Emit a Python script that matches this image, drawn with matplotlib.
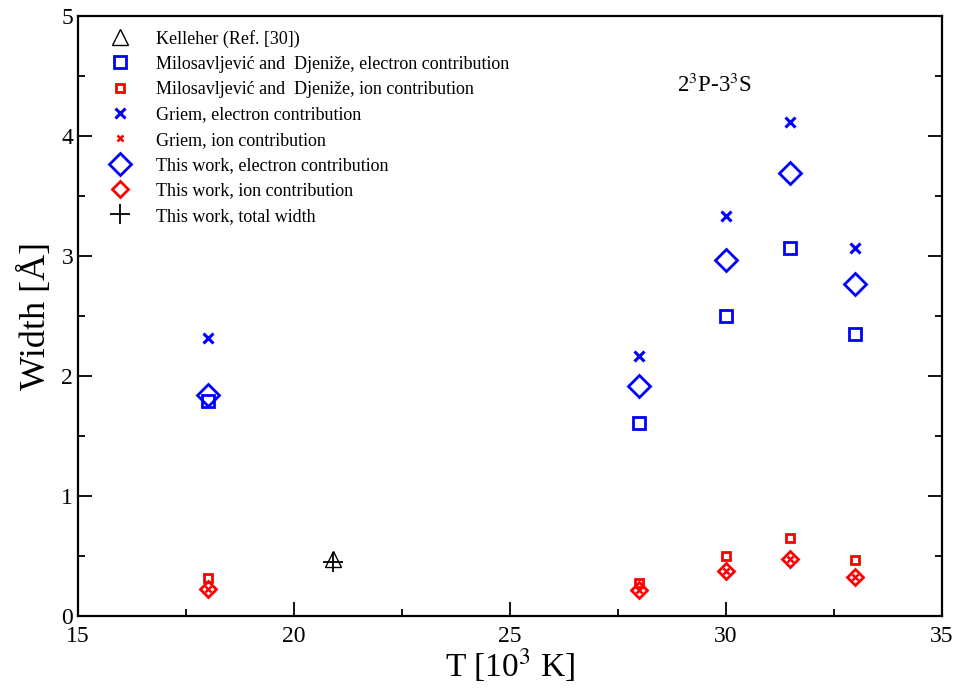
import numpy as np
import matplotlib.pyplot as plt

plt.rcParams['font.family'] = ['Liberation Serif', 'DejaVu Serif']
plt.rcParams['mathtext.fontset'] = 'stix'

# temperatures [10^3 K]
T = [18, 28, 30, 31.5, 33]

# widths [Å]
milos_e = [1.79, 1.61, 2.50, 3.07, 2.35]
milos_i = [0.32, 0.28, 0.50, 0.65, 0.47]
griem_e = [2.32, 2.17, 3.33, 4.12, 3.07]
griem_i = [0.23, 0.22, 0.38, 0.48, 0.33]
work_e = [1.84, 1.92, 2.97, 3.69, 2.77]
work_i = [0.23, 0.22, 0.38, 0.48, 0.33]

T_kell = [20.9]
kelleher = [0.48]
T_total = [20.9]
total = [0.45]

fig = plt.figure(figsize=(9.55, 6.97), dpi=100)
ax = fig.add_axes([0.0817, 0.116, 0.9043, 0.861])

ax.plot(T_kell, kelleher, ls='none', marker='^', ms=11, mfc='none', mec='k', mew=1.0,
        label='Kelleher (Ref. [30])')
ax.plot(T, milos_e, ls='none', marker='s', ms=9, mfc='none', mec='#0000ff', mew=2.0,
        label='Milosavljević and  Djeniže, electron contribution')
ax.plot(T, milos_i, ls='none', marker='s', ms=6, mfc='none', mec='#ff0000', mew=2.0,
        label='Milosavljević and  Djeniže, ion contribution')
ax.plot(T, griem_e, ls='none', marker='x', ms=7, mec='#0000ff', mew=2.2,
        label='Griem, electron contribution')
ax.plot(T, griem_i, ls='none', marker='x', ms=4, mec='#ff0000', mew=1.8,
        label='Griem, ion contribution')
ax.plot(T, work_e, ls='none', marker='D', ms=11, mfc='none', mec='#0000ff', mew=2.0,
        label='This work, electron contribution')
ax.plot(T, work_i, ls='none', marker='D', ms=8, mfc='none', mec='#ff0000', mew=2.0,
        label='This work, ion contribution')
ax.plot(T_total, total, ls='none', marker='+', ms=14, mec='k', mew=1.3,
        label='This work, total width')

ax.set_xlim(15, 35)
ax.set_ylim(0, 5)
ax.set_xticks([15, 20, 25, 30, 35])
ax.set_xticks(np.arange(17.5, 35, 5), minor=True)
ax.set_yticks([0, 1, 2, 3, 4, 5])
ax.set_yticks(np.arange(0.5, 5, 1), minor=True)
ax.tick_params(which='both', direction='in', top=False, right=True, labelsize=17, width=1.3)
ax.tick_params(axis='x', which='both', pad=7)
ax.tick_params(which='major', length=10)
ax.tick_params(which='minor', length=5)
for s in ax.spines.values():
    s.set_linewidth(1.6)

ax.set_xlabel(r'T [10$^3$ K]', fontsize=24, labelpad=0)
ax.set_ylabel('Width [Å]', fontsize=26, labelpad=6)

ax.text(0.694, 0.873, r'2$^3$P-3$^3$S', transform=ax.transAxes, fontsize=16.5)

ax.legend(loc='upper left', bbox_to_anchor=(0.025, 0.997), frameon=False, fontsize=13,
          handlelength=1.0, handletextpad=1.5, labelspacing=0.46, borderaxespad=0.25)

fig.savefig('out.png', dpi=100)
